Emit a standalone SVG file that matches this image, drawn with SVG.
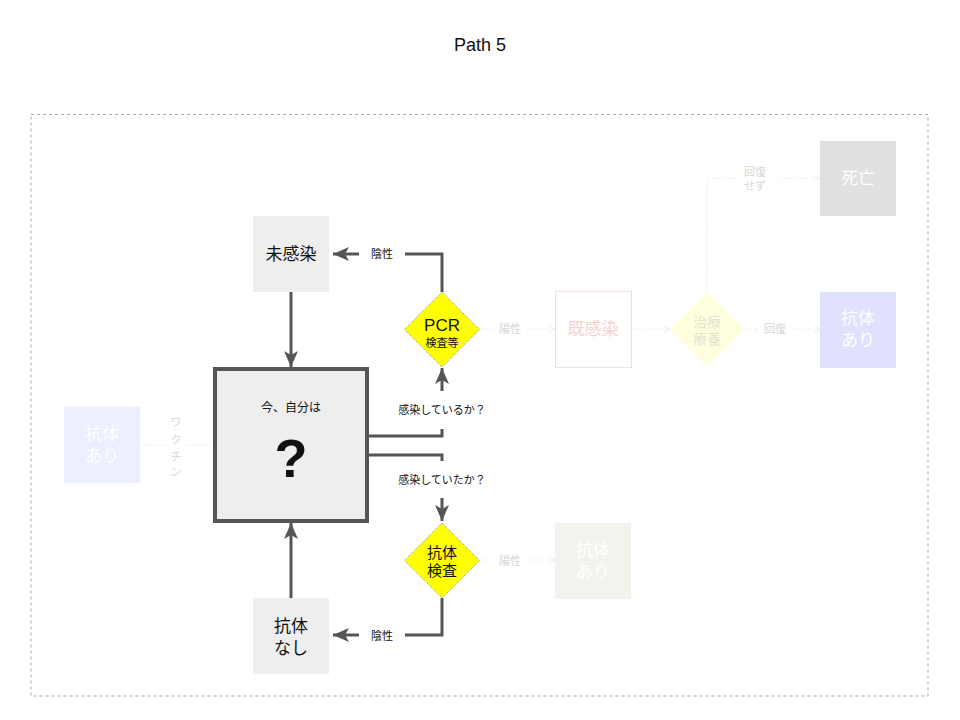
<svg xmlns="http://www.w3.org/2000/svg" width="960" height="720" viewBox="0 0 960 720">
<style>
text{font-family:"Liberation Sans","Noto Sans CJK JP",sans-serif;text-anchor:middle;dominant-baseline:central}
.box{fill:#eeeeee}
.t17{font-size:17px;fill:#111}
.lbl{font-size:11px;fill:#111}
.conn{fill:none;stroke:#555;stroke-width:3}
.fconn{fill:none;stroke:#efefef;stroke-width:1;stroke-dasharray:3 2}
.flbl{font-size:11px;fill:#d6d6d6}
.ft{font-size:17px;fill:#fff}
</style>
<defs>
<marker id="arr" markerUnits="userSpaceOnUse" markerWidth="18" markerHeight="16" refX="16" refY="7" orient="auto">
<path d="M0,0 L16,7 L0,14 L4,7 z" fill="#555"/>
</marker>
<marker id="farr" markerUnits="userSpaceOnUse" markerWidth="8" markerHeight="8" refX="6" refY="3" orient="auto">
<path d="M0,0 L6,3 L0,6" fill="none" stroke="#ececec" stroke-width="1"/>
</marker>
</defs>
<rect width="960" height="720" fill="#fff"/>
<text x="480" y="45" style="font-size:18px;fill:#111">Path 5</text>
<rect x="31" y="114.5" width="897" height="581.5" fill="none" stroke="#aaa" stroke-width="1" stroke-dasharray="3 3"/>

<g id="connectors">
<path class="conn" d="M442,292 V254 H405"/>
<path class="conn" d="M359,254 H333" marker-end="url(#arr)"/>
<path class="conn" d="M291,292 V367" marker-end="url(#arr)"/>
<path class="conn" d="M367,436 H442 V429"/>
<path class="conn" d="M442,391 V368" marker-end="url(#arr)"/>
<path class="conn" d="M367,455 H442 V461"/>
<path class="conn" d="M442,498 V521" marker-end="url(#arr)"/>
<path class="conn" d="M442,598 V635 H405"/>
<path class="conn" d="M359,635 H333" marker-end="url(#arr)"/>
<path class="conn" d="M291,598 V523" marker-end="url(#arr)"/>
<text class="lbl" x="382" y="254">陰性</text>
<text class="lbl" x="442" y="410">感染しているか？</text>
<text class="lbl" x="442" y="480">感染していたか？</text>
<text class="lbl" x="382" y="636">陰性</text>
<!-- faded -->
<path class="fconn" d="M479,329 H494"/>
<path class="fconn" d="M527,329 H555" marker-end="url(#farr)"/>
<text class="flbl" x="510" y="329">陽性</text>
<path class="fconn" d="M632,329 H670" marker-end="url(#farr)"/>
<path class="fconn" d="M744,329 H758"/>
<path class="fconn" d="M792,329 H820" marker-end="url(#farr)"/>
<text class="flbl" x="775" y="329">回復</text>
<path class="fconn" d="M707,292 V178 H735"/>
<path class="fconn" d="M780,178 H820" marker-end="url(#farr)"/>
<text class="flbl" x="755" y="172">回復</text>
<text class="flbl" x="755" y="186">せず</text>
<path class="fconn" d="M479,560 H494"/>
<path class="fconn" d="M527,560 H555" marker-end="url(#farr)"/>
<text class="flbl" x="510" y="561">陽性</text>
<path class="fconn" d="M140,445 H166"/>
<path class="fconn" d="M186,445 H215"/>
<text class="flbl" x="176" y="422">ワ</text>
<text class="flbl" x="176" y="440">ク</text>
<text class="flbl" x="176" y="457">チ</text>
<text class="flbl" x="176" y="472">ン</text>
</g>

<g id="n-mikansen">
<rect class="box" x="253" y="216" width="76" height="76"/>
<text class="t17" x="291" y="254">未感染</text>
</g>

<g id="n-ima">
<rect x="215" y="369" width="152" height="152" fill="#eeeeee" stroke="#555" stroke-width="4"/>
<text x="291" y="408" style="font-size:12px;fill:#111">今、自分は</text>
<text x="291" y="458" style="font-size:54px;font-weight:bold;fill:#111">?</text>
</g>

<g id="n-pcr">
<polygon points="442,292 479.5,329.5 442,367 404.5,329.5" fill="#ffff00" stroke="#999" stroke-width="1" stroke-dasharray="1 1"/>
<text x="442" y="325" style="font-size:17px;fill:#111">PCR</text>
<text x="442" y="343" style="font-size:11px;fill:#111">検査等</text>
</g>

<g id="n-kotaikensa">
<polygon points="442,523 479.5,560.5 442,598 404.5,560.5" fill="#ffff00" stroke="#999" stroke-width="1" stroke-dasharray="1 1"/>
<text x="442" y="552" style="font-size:15px;fill:#111">抗体</text>
<text x="442" y="570" style="font-size:15px;fill:#111">検査</text>
</g>

<g id="n-kotainashi">
<rect class="box" x="253" y="598" width="76" height="76"/>
<text class="t17" x="291" y="626">抗体</text>
<text class="t17" x="291" y="648">なし</text>
</g>

<g id="n-kikansen">
<rect x="555.5" y="291.5" width="76" height="76" fill="#fff" stroke="#f5dede" stroke-width="1"/>
<text x="593" y="329" style="font-size:17px;fill:#f7cfcf">既感染</text>
</g>

<g id="n-chiryo">
<polygon points="707,292 744.5,329.5 707,367 669.5,329.5" fill="#ffffdf"/>
<text x="707" y="322" style="font-size:14px;fill:#e4e4d0">治療</text>
<text x="707" y="339" style="font-size:14px;fill:#e4e4d0">療養</text>
</g>

<g id="n-kotaiari1">
<rect x="820" y="292" width="76" height="76" fill="#e0e0ff"/>
<text class="ft" x="858" y="318">抗体</text>
<text class="ft" x="858" y="340">あり</text>
</g>

<g id="n-shibo">
<rect x="820" y="141" width="76" height="75" fill="#e0e0e0"/>
<text class="ft" x="858" y="178">死亡</text>
</g>

<g id="n-kotaiari2">
<rect x="64" y="407" width="76" height="76" fill="#ebefff"/>
<text class="ft" x="102" y="434">抗体</text>
<text class="ft" x="102" y="456">あり</text>
</g>

<g id="n-kotaiari3">
<rect x="555" y="523" width="76" height="76" fill="#f1f4ec"/>
<text class="ft" x="593" y="550">抗体</text>
<text class="ft" x="593" y="572">あり</text>
</g>
</svg>
